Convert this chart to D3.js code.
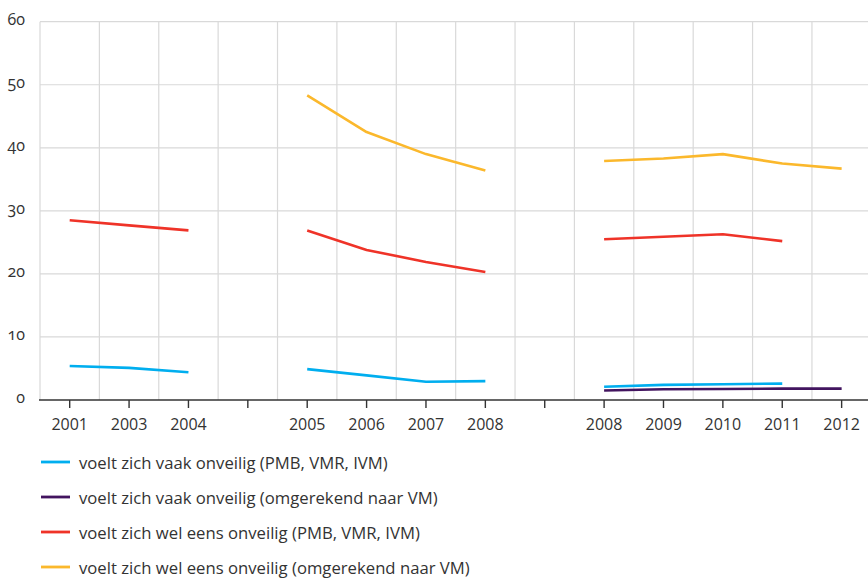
<!DOCTYPE html>
<html><head><meta charset="utf-8">
<script src="https://cdn.jsdelivr.net/npm/d3@7"></script>
<style>
html,body{margin:0;padding:0;background:#fff;}
svg{display:block;font-family:"Open Sans","Noto Sans",sans-serif;}
</style></head>
<body>
<svg id="chart" width="868" height="578"></svg>
<script>
const categoryKeys = ["2001","2003","2004","gap1","2005","2006","2007","2008a","gap2","2008b","2009","2010","2011","2012"];
const tickLabels = ["2001","2003","2004","","2005","2006","2007","2008","","2008","2009","2010","2011","2012"];
const yTicks = [0,10,20,30,40,50,60];

const seriesNames = [
  "voelt zich vaak onveilig (PMB, VMR, IVM)",
  "voelt zich vaak onveilig (omgerekend naar VM)",
  "voelt zich wel eens onveilig (PMB, VMR, IVM)",
  "voelt zich wel eens onveilig (omgerekend naar VM)"
];
const seriesColors = ["#00aeef","#42145f","#ef3328","#fbb82c"];

// values per category (null = no value)
const vaakPMB   = [5.4, 5.1, 4.4, null, 4.9, 3.9, 2.9, 3.0, null, 2.1, 2.4, 2.5, 2.6, null];
const vaakVM    = [null,null,null,null,null,null,null,null,null, 1.5, 1.7, 1.75, 1.8, 1.8];
const welEensPMB= [28.5, 27.7, 26.9, null, 26.9, 23.8, 21.9, 20.3, null, 25.5, 25.9, 26.3, 25.2, null];
const welEensVM = [null,null,null,null, 48.3, 42.5, 39.0, 36.4, null, 37.9, 38.3, 39.0, 37.5, 36.7];

const seriesValues = [vaakPMB, vaakVM, welEensPMB, welEensVM];

const svg = d3.select("#chart");
const mLeft = 40, mTop = 21.7, mBottom = 400, mRight = 868;
const bandW = 59.38;
const x = d3.scaleBand().domain(categoryKeys).range([mLeft, mLeft + bandW*categoryKeys.length]).padding(0);
const y = d3.scaleLinear().domain([0,60]).range([mBottom, mTop]);

// horizontal gridlines
svg.append("g").selectAll("line").data(yTicks.filter(d=>d>0)).join("line")
  .attr("x1", mLeft).attr("x2", mRight)
  .attr("y1", d=>y(d)).attr("y2", d=>y(d))
  .attr("stroke", "#d9d9d9").attr("stroke-width", 1.2);

// vertical gridlines at band boundaries
svg.append("g").selectAll("line").data(categoryKeys).join("line")
  .attr("x1", d=>x(d)).attr("x2", d=>x(d))
  .attr("y1", mTop).attr("y2", mBottom)
  .attr("stroke", "#d9d9d9").attr("stroke-width", 1.2);

// y labels
svg.append("g").selectAll("text").data(yTicks).join("text")
  .attr("x", 25).attr("y", d=>y(d)+3)
  .attr("text-anchor","end")
  .attr("font-size", 16).attr("fill","#333")
  .style("font-variant-numeric","oldstyle-nums")
  .text(d=>d);

// x axis
const xAxis = d3.axisBottom(x).tickSize(8).tickSizeOuter(0).tickFormat((d,i)=>tickLabels[i]);
const gx = svg.append("g").attr("transform", `translate(0,${mBottom})`).call(xAxis);
gx.select(".domain").remove();
gx.append("line").attr("x1", mLeft-1).attr("x2", mRight).attr("y1",0).attr("y2",0)
  .attr("stroke","#333").attr("stroke-width",1.6);
gx.selectAll(".tick line").attr("stroke","#333").attr("stroke-width",1.4);
gx.selectAll(".tick text").attr("font-size",16).attr("fill","#333")
  .attr("font-family",'"Open Sans","Noto Sans",sans-serif')
  .attr("y", 29.5).attr("dy", 0);

// lines
const line = d3.line()
  .defined(d=>d.v!==null)
  .x(d=>x(d.k)+x.bandwidth()/2)
  .y(d=>y(d.v));

seriesValues.forEach((vals,i)=>{
  const pts = vals.map((v,j)=>({k:categoryKeys[j], v}));
  svg.append("path").datum(pts)
    .attr("d", line)
    .attr("fill","none")
    .attr("stroke", seriesColors[i])
    .attr("stroke-width", 2.6)
    .attr("stroke-linejoin","round");
});

// legend
const legend = svg.append("g");
const legY0 = 462, legStep = 35;
seriesNames.forEach((name,i)=>{
  const gy = legY0 + i*legStep;
  legend.append("line").attr("x1",41).attr("x2",70).attr("y1",gy).attr("y2",gy)
    .attr("stroke",seriesColors[i]).attr("stroke-width",2.8);
  legend.append("text").attr("x",79).attr("y",gy+6.5)
    .attr("font-size",16.7).attr("fill","#333").text(name);
});
</script>
</body></html>
